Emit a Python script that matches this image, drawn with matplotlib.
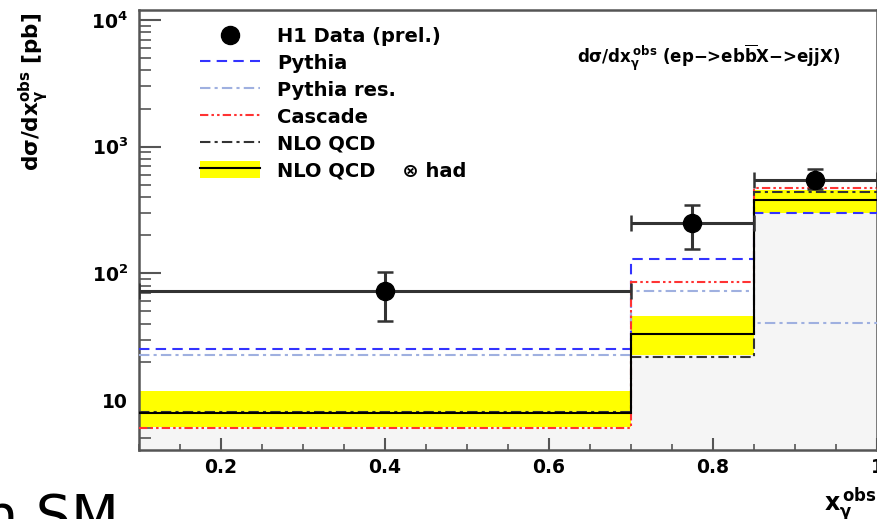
import matplotlib
matplotlib.use("Agg")
import matplotlib.pyplot as plt
from matplotlib.lines import Line2D
from matplotlib.patches import Patch
from matplotlib.ticker import FixedLocator, MultipleLocator, LogLocator, NullFormatter

# ---------------- data ----------------
edges = [0.1, 0.7, 0.85, 1.0]
data_x = [0.4, 0.775, 0.925]
data_y = [73, 250, 550]
data_lo = [42, 156, 460]
data_hi = [102, 349, 667]
pythia = [25.5, 129, 298]
pythia_res = [22.8, 72.6, 40.9]
cascade = [6.05, 85.3, 473]
nlo = [8.0, 21.7, 435]
nlo_had = [7.9, 33.1, 380]
nlo_had_lo = [6.1, 22.6, 298]
nlo_had_hi = [11.8, 46.1, 456]
xticks = [0.2, 0.4, 0.6, 0.8, 1.0]
xticklabels = ["0.2", "0.4", "0.6", "0.8", "1"]
yticks = [10, 100, 1000, 10000]
yticklabels = ["10", r"10$^{2}$", r"10$^{3}$", r"10$^{4}$"]

plt.rcParams['font.family'] = ['DejaVu Sans']
plt.rcParams['font.weight'] = 'bold'
plt.rcParams['mathtext.fontset'] = 'custom'
plt.rcParams['mathtext.rm'] = 'DejaVu Sans:bold'
plt.rcParams['mathtext.it'] = 'DejaVu Sans:bold'
plt.rcParams['mathtext.bf'] = 'DejaVu Sans:bold'
plt.rcParams['mathtext.sf'] = 'DejaVu Sans:bold'

W, H = 878, 519
fig = plt.figure(figsize=(W / 100, H / 100), dpi=100)
ax = fig.add_axes([139 / W, (H - 450) / H, (877 - 139) / W, (450 - 10) / H])

ymin, ymax = 4.03, 1.2e4
ax.set_yscale('log')
ax.set_xlim(0.1, 1.0)
ax.set_ylim(ymin, ymax)

gray = '#555555'
# stipple region below band
ax.stairs(nlo_had_lo, edges, baseline=ymin, fill=True, color='#f5f5f5', zorder=1)
# yellow band
ax.stairs(nlo_had_hi, edges, baseline=nlo_had_lo, fill=True, color='#ffff00', zorder=2)

ax.stairs(pythia, edges, baseline=None, color='#3333ff', lw=1.5,
          linestyle=(0, (5, 3)), zorder=3)
ax.stairs(pythia_res, edges, baseline=None, color='#9fb0e0', lw=1.5,
          linestyle=(0, (5, 2, 1.5, 2)), zorder=3)
ax.stairs(cascade, edges, baseline=None, color='#ff3333', lw=1.5,
          linestyle=(0, (4, 1.5, 1.2, 1.5, 1.2, 1.5)), zorder=3)
ax.stairs(nlo, edges, baseline=None, color='#333333', lw=1.5,
          linestyle=(0, (5, 2, 1.5, 2)), zorder=3)
ax.stairs(nlo_had, edges, baseline=None, color='black', lw=1.5, zorder=4)

xerr = [[x - e0 for x, e0 in zip(data_x, edges[:-1])],
        [e1 - x for x, e1 in zip(data_x, edges[1:])]]
yerr = [[y - l for y, l in zip(data_y, data_lo)],
        [h - y for y, h in zip(data_y, data_hi)]]
ax.errorbar(data_x, data_y, xerr=xerr, yerr=yerr, fmt='o', color='black',
            ecolor='#333333', elinewidth=2.2, capsize=5.5, capthick=1.8,
            markersize=13, zorder=6)

# axes styling
for s in ax.spines.values():
    s.set_color(gray)
    s.set_linewidth(1.8)
ax.xaxis.set_major_locator(FixedLocator(xticks))
ax.set_xticklabels(xticklabels)
ax.xaxis.set_minor_locator(MultipleLocator(0.05))
ax.yaxis.set_major_locator(FixedLocator(yticks))
ax.set_yticklabels(yticklabels)
ax.yaxis.set_minor_locator(LogLocator(base=10, subs=range(2, 10)))
ax.yaxis.set_minor_formatter(NullFormatter())
ax.tick_params(axis='x', which='major', direction='in', length=9, width=1.5,
               color=gray, labelsize=13.5, pad=6, top=False)
ax.tick_params(axis='x', which='minor', direction='in', length=4.5, width=1.2,
               color=gray, top=False)
ax.tick_params(axis='y', which='major', direction='in', length=16, width=1.5,
               color=gray, labelsize=13.5, pad=8, right=False)
ax.tick_params(axis='y', which='minor', direction='in', length=8.5, width=1.2,
               color=gray, right=False)

# legend
handles = [
    Line2D([], [], marker='o', color='black', linestyle='none', markersize=13),
    Line2D([], [], color='#3333ff', lw=1.5, linestyle=(0, (5, 3))),
    Line2D([], [], color='#9fb0e0', lw=1.5, linestyle=(0, (5, 2, 1.5, 2))),
    Line2D([], [], color='#ff3333', lw=1.5, linestyle=(0, (4, 1.5, 1.2, 1.5, 1.2, 1.5))),
    Line2D([], [], color='#333333', lw=1.5, linestyle=(0, (5, 2, 1.5, 2))),
    (Patch(facecolor='#ffff00', edgecolor='none'), Line2D([], [], color='black', lw=1.5)),
]
labels = ["H1 Data (prel.)", "Pythia", "Pythia res.", "Cascade", "NLO QCD",
          "NLO QCD    \u2297 had"]
leg = ax.legend(handles, labels, loc='upper left',
                bbox_to_anchor=((200 - 139) / 738, 1 - (27 - 10) / 440),
                frameon=False, fontsize=14, handlelength=3.1, handleheight=1.0,
                handletextpad=0.85, labelspacing=0.38, borderpad=0, borderaxespad=0)
for t in leg.get_texts():
    t.set_fontweight('bold')

# inner title
ax.text((577 - 139) / 738, 1 - (58 - 10) / 440,
        r'd$\sigma$/dx$_{\gamma}^{\,obs}$ (ep$-$>eb$\overline{\rm b}$X$-$>ejjX)',
        transform=ax.transAxes, fontsize=12, fontweight='bold', va='center', ha='left')

# axis labels
fig.text(34 / W, 1 - 13 / H, r'd$\sigma$/dx$_{\gamma}^{obs}$ [pb]', rotation=90,
         ha='center', va='top', fontsize=15.5, fontweight='bold')
fig.text(877 / W, 1 - 511 / H, r'x$_{\gamma}^{\,obs}$', ha='right', va='baseline',
         fontsize=17, fontweight='bold')

# slide fragment
fig.text(-17 / W, -15 / H, 'n SM', ha='left', va='baseline', fontsize=40,
         fontweight='normal', family='DejaVu Sans')

fig.savefig('out.png', dpi=100)
